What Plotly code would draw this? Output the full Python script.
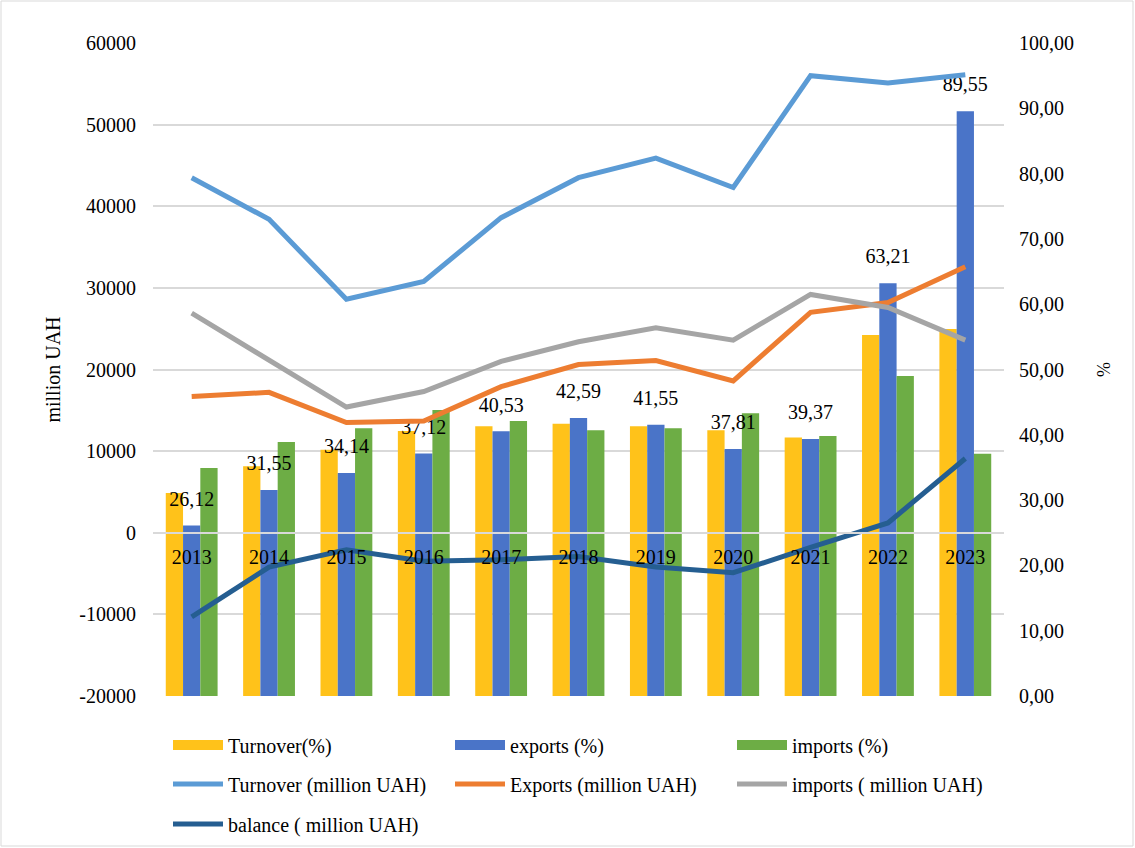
import plotly.graph_objects as go

years = ["2013", "2014", "2015", "2016", "2017", "2018", "2019", "2020", "2021", "2022", "2023"]

turnover_pct = [31.1, 35.2, 37.7, 40.6, 41.3, 41.7, 41.3, 40.7, 39.6, 55.3, 56.2]
exports_pct = [26.12, 31.55, 34.14, 37.12, 40.53, 42.59, 41.55, 37.81, 39.37, 63.21, 89.55]
imports_pct = [34.9, 38.9, 41.0, 43.8, 42.1, 40.7, 41.0, 43.3, 39.8, 49.0, 37.1]

turnover_mln = [43500, 38400, 28600, 30800, 38600, 43500, 45900, 42300, 56000, 55100, 56100]
exports_mln = [16700, 17200, 13500, 13700, 17900, 20600, 21100, 18600, 27000, 28200, 32600]
imports_mln = [26900, 21200, 15400, 17300, 21000, 23400, 25100, 23600, 29200, 27600, 23600]
balance_mln = [-10300, -4200, -2100, -3500, -3300, -2900, -4200, -4900, -1800, 1200, 9100]

mln_ticks = [-20000, -10000, 0, 10000, 20000, 30000, 40000, 50000, 60000]

W, H = 1135, 848
ML, MR, MT, MB = 153, 131, 43, 152
FONT = "Liberation Serif, Times New Roman, serif"
mln_range = [mln_ticks[0], mln_ticks[-1]]
pct_range = [0, 100]

fig = go.Figure()

bar_specs = [
    ("Turnover(%)", turnover_pct, "#FFC21A"),
    ("exports (%)", exports_pct, "#4A74C8"),
    ("imports (%)", imports_pct, "#6DAD45"),
]
for name, vals, col in bar_specs:
    fig.add_trace(go.Bar(x=years, y=vals, name=name, marker=dict(color=col, line=dict(width=0)),
                         yaxis="y", showlegend=False, legendgroup=name, hoverinfo="x+y"))

# value labels of the exports bars (drawn above all bars)
fig.add_trace(go.Scatter(x=years, y=exports_pct, mode="markers+text",
                         text=[f"{v:.2f}".replace(".", ",") for v in exports_pct],
                         textposition="top center",
                         textfont=dict(size=20, color="#000000", family=FONT),
                         marker=dict(size=22, color="rgba(0,0,0,0)"),
                         yaxis="y", showlegend=False, hoverinfo="skip", cliponaxis=False))

# legend entries for the bars (wide swatches)
for name, vals, col in bar_specs:
    fig.add_trace(go.Scatter(x=[None], y=[None], name=name, mode="lines",
                             line=dict(color=col, width=12), yaxis="y",
                             legend="legend", legendgroup=name))

line_specs = [
    ("Turnover (million UAH)", turnover_mln, "#5B9BD5", "legend2"),
    ("Exports (million UAH)", exports_mln, "#ED7D31", "legend2"),
    ("imports ( million UAH)", imports_mln, "#A5A5A5", "legend2"),
    ("balance ( million UAH)", balance_mln, "#255E91", "legend3"),
]
for name, vals, col, lg in line_specs:
    fig.add_trace(go.Scatter(x=years, y=vals, name=name, mode="lines",
                             line=dict(color=col, width=5), yaxis="y2", legend=lg))

zero_pos = (0 - mln_range[0]) / (mln_range[1] - mln_range[0])

leg_common = dict(orientation="h", entrywidth=217, entrywidthmode="pixels",
                  xref="container", x=168 / W, xanchor="left",
                  yref="container", yanchor="middle",
                  font=dict(size=20, family=FONT, color="#000000"),
                  bgcolor="rgba(0,0,0,0)", itemwidth=50, traceorder="normal")

tickfont = dict(size=20, family=FONT, color="#000000")

fig.update_layout(
    width=W, height=H,
    margin=dict(l=ML, r=MR, t=MT, b=MB, autoexpand=False),
    paper_bgcolor="white", plot_bgcolor="white",
    font=dict(family=FONT, size=20, color="#000000"),
    separators=",.",
    barmode="group", bargap=0.33, bargroupgap=0,
    xaxis=dict(type="category", anchor="free", position=zero_pos,
               range=[-0.5, len(years) - 0.5],
               showline=True, linecolor="#D9D9D9", linewidth=2,
               ticks="", showgrid=False, tickfont=tickfont, ticklabelstandoff=6,
               layer="above traces"),
    yaxis=dict(range=pct_range, side="right", dtick=10, tickformat=".2f",
               showgrid=False, zeroline=False, ticks="", tickfont=tickfont,
               ticklabelstandoff=14,
               title=dict(text="%", font=dict(size=18, family=FONT), standoff=24)),
    yaxis2=dict(range=mln_range, side="left", overlaying="y",
                tickmode="array", tickvals=mln_ticks, ticktext=[str(v) for v in mln_ticks],
                showgrid=True, gridcolor="#D9D9D9", gridwidth=1.5,
                zeroline=False, ticks="", ticklabelstandoff=16, tickfont=tickfont,
                title=dict(text="million UAH", font=dict(size=20, family=FONT), standoff=13)),
    legend=dict(leg_common, y=1 - 745 / H),
    legend2=dict(leg_common, y=1 - 784 / H),
    legend3=dict(leg_common, y=1 - 824 / H),
    showlegend=True,
)

pw = W - ML - MR
ph = H - MT - MB
fig.add_shape(type="rect", xref="paper", yref="paper",
              x0=-(ML - 1) / pw, x1=1 + (MR - 2) / pw,
              y0=-(MB - 2) / ph, y1=1 + (MT - 1) / ph,
              line=dict(color="#D9D9D9", width=1), fillcolor="rgba(0,0,0,0)", layer="below")

fig.write_html("out.html")
